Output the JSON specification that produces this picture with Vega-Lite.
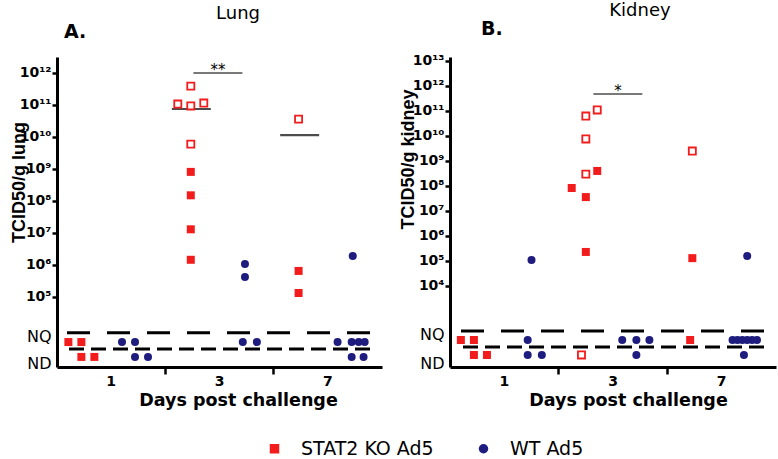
{
  "$schema": "https://vega.github.io/schema/vega-lite/v6.json",
  "padding": {"left": 10, "top": 1, "right": 0, "bottom": 0},
  "spacing": 15,
  "datasets": {
    "pts": [
      {"organ":"Lung","day":"1","strain":"STAT2 KO Ad5","value":3890,"status":"NQ","open":false,"dx":-0.79},
      {"organ":"Lung","day":"1","strain":"STAT2 KO Ad5","value":3890,"status":"NQ","open":false,"dx":-0.55},
      {"organ":"Lung","day":"1","strain":"STAT2 KO Ad5","value":1334,"status":"ND","open":false,"dx":-0.55},
      {"organ":"Lung","day":"1","strain":"STAT2 KO Ad5","value":1334,"status":"ND","open":false,"dx":-0.31},
      {"organ":"Lung","day":"1","strain":"WT Ad5","value":3890,"status":"NQ","open":false,"dx":0.20},
      {"organ":"Lung","day":"1","strain":"WT Ad5","value":3890,"status":"NQ","open":false,"dx":0.44},
      {"organ":"Lung","day":"1","strain":"WT Ad5","value":1334,"status":"ND","open":false,"dx":0.44},
      {"organ":"Lung","day":"1","strain":"WT Ad5","value":1334,"status":"ND","open":false,"dx":0.68},
      {"organ":"Lung","day":"3","strain":"STAT2 KO Ad5","value":3.9e11,"status":"measured","open":true,"dx":-0.53},
      {"organ":"Lung","day":"3","strain":"STAT2 KO Ad5","value":1.07e11,"status":"measured","open":true,"dx":-0.77},
      {"organ":"Lung","day":"3","strain":"STAT2 KO Ad5","value":9.3e10,"status":"measured","open":true,"dx":-0.53},
      {"organ":"Lung","day":"3","strain":"STAT2 KO Ad5","value":1.15e11,"status":"measured","open":true,"dx":-0.29},
      {"organ":"Lung","day":"3","strain":"STAT2 KO Ad5","value":6e9,"status":"measured","open":true,"dx":-0.53},
      {"organ":"Lung","day":"3","strain":"STAT2 KO Ad5","value":8.1e8,"status":"measured","open":false,"dx":-0.53},
      {"organ":"Lung","day":"3","strain":"STAT2 KO Ad5","value":1.5e8,"status":"measured","open":false,"dx":-0.53},
      {"organ":"Lung","day":"3","strain":"STAT2 KO Ad5","value":1.3e7,"status":"measured","open":false,"dx":-0.53},
      {"organ":"Lung","day":"3","strain":"STAT2 KO Ad5","value":1.45e6,"status":"measured","open":false,"dx":-0.53},
      {"organ":"Lung","day":"3","strain":"WT Ad5","value":1.07e6,"status":"measured","open":false,"dx":0.47},
      {"organ":"Lung","day":"3","strain":"WT Ad5","value":4.2e5,"status":"measured","open":false,"dx":0.47},
      {"organ":"Lung","day":"3","strain":"WT Ad5","value":3890,"status":"NQ","open":false,"dx":0.43},
      {"organ":"Lung","day":"3","strain":"WT Ad5","value":3890,"status":"NQ","open":false,"dx":0.69},
      {"organ":"Lung","day":"7","strain":"STAT2 KO Ad5","value":3.6e10,"status":"measured","open":true,"dx":-0.54},
      {"organ":"Lung","day":"7","strain":"STAT2 KO Ad5","value":6.5e5,"status":"measured","open":false,"dx":-0.54},
      {"organ":"Lung","day":"7","strain":"STAT2 KO Ad5","value":1.33e5,"status":"measured","open":false,"dx":-0.54},
      {"organ":"Lung","day":"7","strain":"WT Ad5","value":1.9e6,"status":"measured","open":false,"dx":0.46},
      {"organ":"Lung","day":"7","strain":"WT Ad5","value":3890,"status":"NQ","open":false,"dx":0.18},
      {"organ":"Lung","day":"7","strain":"WT Ad5","value":3890,"status":"NQ","open":false,"dx":0.44},
      {"organ":"Lung","day":"7","strain":"WT Ad5","value":3890,"status":"NQ","open":false,"dx":0.57},
      {"organ":"Lung","day":"7","strain":"WT Ad5","value":3890,"status":"NQ","open":false,"dx":0.68},
      {"organ":"Lung","day":"7","strain":"WT Ad5","value":1334,"status":"ND","open":false,"dx":0.44},
      {"organ":"Lung","day":"7","strain":"WT Ad5","value":1334,"status":"ND","open":false,"dx":0.66},
      {"organ":"Kidney","day":"1","strain":"STAT2 KO Ad5","value":69,"status":"NQ","open":false,"dx":-0.80},
      {"organ":"Kidney","day":"1","strain":"STAT2 KO Ad5","value":69,"status":"NQ","open":false,"dx":-0.56},
      {"organ":"Kidney","day":"1","strain":"STAT2 KO Ad5","value":17.4,"status":"ND","open":false,"dx":-0.56},
      {"organ":"Kidney","day":"1","strain":"STAT2 KO Ad5","value":17.4,"status":"ND","open":false,"dx":-0.32},
      {"organ":"Kidney","day":"1","strain":"WT Ad5","value":1.1e5,"status":"measured","open":false,"dx":0.50},
      {"organ":"Kidney","day":"1","strain":"WT Ad5","value":69,"status":"NQ","open":false,"dx":0.43},
      {"organ":"Kidney","day":"1","strain":"WT Ad5","value":17.4,"status":"ND","open":false,"dx":0.43},
      {"organ":"Kidney","day":"1","strain":"WT Ad5","value":17.4,"status":"ND","open":false,"dx":0.69},
      {"organ":"Kidney","day":"3","strain":"STAT2 KO Ad5","value":1.1e11,"status":"measured","open":true,"dx":-0.29},
      {"organ":"Kidney","day":"3","strain":"STAT2 KO Ad5","value":6.3e10,"status":"measured","open":true,"dx":-0.50},
      {"organ":"Kidney","day":"3","strain":"STAT2 KO Ad5","value":7.6e9,"status":"measured","open":true,"dx":-0.50},
      {"organ":"Kidney","day":"3","strain":"STAT2 KO Ad5","value":3e8,"status":"measured","open":true,"dx":-0.50},
      {"organ":"Kidney","day":"3","strain":"STAT2 KO Ad5","value":17.4,"status":"ND","open":true,"dx":-0.58},
      {"organ":"Kidney","day":"3","strain":"STAT2 KO Ad5","value":4e8,"status":"measured","open":false,"dx":-0.29},
      {"organ":"Kidney","day":"3","strain":"STAT2 KO Ad5","value":8.3e7,"status":"measured","open":false,"dx":-0.76},
      {"organ":"Kidney","day":"3","strain":"STAT2 KO Ad5","value":3.6e7,"status":"measured","open":false,"dx":-0.50},
      {"organ":"Kidney","day":"3","strain":"STAT2 KO Ad5","value":2.3e5,"status":"measured","open":false,"dx":-0.50},
      {"organ":"Kidney","day":"3","strain":"WT Ad5","value":69,"status":"NQ","open":false,"dx":0.17},
      {"organ":"Kidney","day":"3","strain":"WT Ad5","value":69,"status":"NQ","open":false,"dx":0.43},
      {"organ":"Kidney","day":"3","strain":"WT Ad5","value":69,"status":"NQ","open":false,"dx":0.67},
      {"organ":"Kidney","day":"3","strain":"WT Ad5","value":17.4,"status":"ND","open":false,"dx":0.43},
      {"organ":"Kidney","day":"7","strain":"STAT2 KO Ad5","value":2.5e9,"status":"measured","open":true,"dx":-0.54},
      {"organ":"Kidney","day":"7","strain":"STAT2 KO Ad5","value":1.3e5,"status":"measured","open":false,"dx":-0.54},
      {"organ":"Kidney","day":"7","strain":"STAT2 KO Ad5","value":69,"status":"NQ","open":false,"dx":-0.58},
      {"organ":"Kidney","day":"7","strain":"WT Ad5","value":1.6e5,"status":"measured","open":false,"dx":0.47},
      {"organ":"Kidney","day":"7","strain":"WT Ad5","value":69,"status":"NQ","open":false,"dx":0.20},
      {"organ":"Kidney","day":"7","strain":"WT Ad5","value":69,"status":"NQ","open":false,"dx":0.29},
      {"organ":"Kidney","day":"7","strain":"WT Ad5","value":69,"status":"NQ","open":false,"dx":0.38},
      {"organ":"Kidney","day":"7","strain":"WT Ad5","value":69,"status":"NQ","open":false,"dx":0.47},
      {"organ":"Kidney","day":"7","strain":"WT Ad5","value":69,"status":"NQ","open":false,"dx":0.56},
      {"organ":"Kidney","day":"7","strain":"WT Ad5","value":69,"status":"NQ","open":false,"dx":0.65},
      {"organ":"Kidney","day":"7","strain":"WT Ad5","value":17.4,"status":"ND","open":false,"dx":0.41}
    ],
    "limits": [
      {"organ":"Lung","level":"NQ","value":7586},
      {"organ":"Lung","level":"ND","value":2371},
      {"organ":"Kidney","level":"NQ","value":158},
      {"organ":"Kidney","level":"ND","value":36}
    ],
    "medians": [
      {"organ":"Lung","day":"3","value":7.5e10,"dx":-0.52},
      {"organ":"Lung","day":"7","value":1.15e10,"dx":-0.52}
    ],
    "sig": [
      {"organ":"Lung","day":"3","value":1e12,"dx":-0.03,"label":"**"},
      {"organ":"Kidney","day":"3","value":4.79e11,"dx":0.09,"label":"*"}
    ]
  },
  "hconcat": [
    {
      "title": {"text": "Lung", "fontSize": 18, "fontWeight": "normal", "anchor": "middle", "frame": "group", "dx": 181, "offset": 0, "color": "black"},
      "vconcat": [
        {
          "title": {"text": "A.", "fontSize": 19, "fontWeight": "bold", "anchor": "start", "frame": "group", "dx": 7, "offset": 15, "color": "black"},
          "width": 325,
          "height": 310,
          "encoding": {
            "x": {"field": "day", "type": "nominal", "sort": ["1","3","7"],
              "scale": {"domain": ["1","3","7"], "paddingInner": 0, "paddingOuter": 0},
              "axis": {"title": "Days post challenge", "labelAngle": 0, "bandPosition": 0,
                "tickOpacity": {"condition": {"test": "datum.value == '1'", "value": 0}, "value": 1},
                "titleX": 181, "titleY": 24}},
            "y": {"field": "value", "type": "quantitative",
              "scale": {"type": "log", "domain": [646, 3.16e12], "nice": false},
              "axis": {"title": "TCID50/g lung", "titleX": -29, "titleY": 125,
                "values": [1e5,1e6,1e7,1e8,1e9,1e10,1e11,1e12,5623,805],
                "labelExpr": "datum.value < 1e4 ? (datum.value < 2000 ? 'ND' : 'NQ') : '10' + (round(log(datum.value)/LN10) >= 10 ? '¹' : '') + ['⁰','¹','²','³','⁴','⁵','⁶','⁷','⁸','⁹'][round(log(datum.value)/LN10) % 10]",
                "tickOpacity": {"condition": {"test": "datum.value < 1e4", "value": 0}, "value": 1},
                "labelFontWeight": {"condition": {"test": "datum.value < 1e4", "value": "normal"}, "value": "bold"},
                "labelFontSize": {"condition": {"test": "datum.value < 1e4", "value": 16}, "value": 14}}},
            "xOffset": {"field": "dx", "type": "quantitative", "scale": {"domain": [-1, 1]}}
          },
          "layer": [
            {"data": {"name": "limits"}, "transform": [{"filter": "datum.organ == 'Lung' && datum.level == 'NQ'"}],
             "mark": {"type": "rule", "strokeWidth": 3, "color": "black", "strokeDash": [0,12,23,17,23,17,23,17,23,17,23,17,23,17,23,17,23,400]},
             "encoding": {"x": null, "xOffset": null}},
            {"data": {"name": "limits"}, "transform": [{"filter": "datum.organ == 'Lung' && datum.level == 'ND'"}],
             "mark": {"type": "rule", "strokeWidth": 3, "color": "black", "strokeDash": [0,12,15,7,15,7,15,7,15,7,15,7,15,7,15,7,15,7,15,7,15,7,15,7,15,7,15,7,15,400]},
             "encoding": {"x": null, "xOffset": null}},
            {"data": {"name": "medians"}, "transform": [{"filter": "datum.organ == 'Lung'"}],
             "mark": {"type": "tick", "orient": "horizontal", "size": 39, "thickness": 2.2, "color": "black"}},
            {"data": {"name": "sig"}, "transform": [{"filter": "datum.organ == 'Lung'"}],
             "mark": {"type": "tick", "orient": "horizontal", "size": 49, "thickness": 1.6, "color": "black"}},
            {"data": {"name": "sig"}, "transform": [{"filter": "datum.organ == 'Lung'"}],
             "mark": {"type": "text", "baseline": "alphabetic", "dy": 2, "fontSize": 15, "color": "black"},
             "encoding": {"text": {"field": "label"}}},
            {"data": {"name": "pts"}, "transform": [{"filter": "datum.organ == 'Lung' && !datum.open"}],
             "mark": {"type": "point", "filled": true, "size": 64, "opacity": 1},
             "encoding": {
               "color": {"field": "strain", "type": "nominal", "scale": {"domain": ["STAT2 KO Ad5","WT Ad5"], "range": ["#f21c1c","#1e1c7e"]}, "legend": {"title": null}},
               "shape": {"field": "strain", "type": "nominal", "scale": {"domain": ["STAT2 KO Ad5","WT Ad5"], "range": ["square","circle"]}, "legend": {"title": null}}
             }},
            {"data": {"name": "pts"}, "transform": [{"filter": "datum.organ == 'Lung' && datum.open"}],
             "mark": {"type": "point", "shape": "square", "filled": true, "fill": "white", "stroke": "#f21c1c", "strokeWidth": 1.8, "size": 50, "opacity": 1}}
          ]
        }
      ]
    },
    {
      "title": {"text": "Kidney", "fontSize": 18, "fontWeight": "normal", "anchor": "middle", "frame": "group", "dx": 190, "offset": 0, "color": "black"},
      "vconcat": [
        {
          "title": {"text": "B.", "fontSize": 19, "fontWeight": "bold", "anchor": "start", "frame": "group", "dx": 31, "offset": 15, "color": "black"},
          "width": 326,
          "height": 310,
          "encoding": {
            "x": {"field": "day", "type": "nominal", "sort": ["1","3","7"],
              "scale": {"domain": ["1","3","7"], "paddingInner": 0, "paddingOuter": 0},
              "axis": {"title": "Days post challenge", "labelAngle": 0, "bandPosition": 0,
                "tickOpacity": {"condition": {"test": "datum.value == '1'", "value": 0}, "value": 1},
                "titleX": 178, "titleY": 24}},
            "y": {"field": "value", "type": "quantitative",
              "scale": {"type": "log", "domain": [5.75, 1.445e13], "nice": false},
              "axis": {"title": "TCID50/g kidney", "titleX": -33, "titleY": 102,
                "values": [1e4,1e5,1e6,1e7,1e8,1e9,1e10,1e11,1e12,1e13,110,8.3],
                "labelExpr": "datum.value < 1000 ? (datum.value < 30 ? 'ND' : 'NQ') : '10' + (round(log(datum.value)/LN10) >= 10 ? '¹' : '') + ['⁰','¹','²','³','⁴','⁵','⁶','⁷','⁸','⁹'][round(log(datum.value)/LN10) % 10]",
                "tickOpacity": {"condition": {"test": "datum.value < 1000", "value": 0}, "value": 1},
                "labelFontWeight": {"condition": {"test": "datum.value < 1000", "value": "normal"}, "value": "bold"},
                "labelFontSize": {"condition": {"test": "datum.value < 1000", "value": 16}, "value": 14}}},
            "xOffset": {"field": "dx", "type": "quantitative", "scale": {"domain": [-1, 1]}}
          },
          "layer": [
            {"data": {"name": "limits"}, "transform": [{"filter": "datum.organ == 'Kidney' && datum.level == 'NQ'"}],
             "mark": {"type": "rule", "strokeWidth": 3, "color": "black", "strokeDash": [0,12,23,17,23,17,23,17,23,17,23,17,23,17,23,17,23,400]},
             "encoding": {"x": null, "xOffset": null}},
            {"data": {"name": "limits"}, "transform": [{"filter": "datum.organ == 'Kidney' && datum.level == 'ND'"}],
             "mark": {"type": "rule", "strokeWidth": 3, "color": "black", "strokeDash": [0,12,15,7,15,7,15,7,15,7,15,7,15,7,15,7,15,7,15,7,15,7,15,7,15,7,15,7,15,400]},
             "encoding": {"x": null, "xOffset": null}},
            {"data": {"name": "sig"}, "transform": [{"filter": "datum.organ == 'Kidney'"}],
             "mark": {"type": "tick", "orient": "horizontal", "size": 49, "thickness": 1.6, "color": "black"}},
            {"data": {"name": "sig"}, "transform": [{"filter": "datum.organ == 'Kidney'"}],
             "mark": {"type": "text", "baseline": "alphabetic", "dy": 2, "fontSize": 15, "color": "black"},
             "encoding": {"text": {"field": "label"}}},
            {"data": {"name": "pts"}, "transform": [{"filter": "datum.organ == 'Kidney' && !datum.open"}],
             "mark": {"type": "point", "filled": true, "size": 64, "opacity": 1},
             "encoding": {
               "color": {"field": "strain", "type": "nominal", "scale": {"domain": ["STAT2 KO Ad5","WT Ad5"], "range": ["#f21c1c","#1e1c7e"]}, "legend": {"title": null}},
               "shape": {"field": "strain", "type": "nominal", "scale": {"domain": ["STAT2 KO Ad5","WT Ad5"], "range": ["square","circle"]}, "legend": {"title": null}}
             }},
            {"data": {"name": "pts"}, "transform": [{"filter": "datum.organ == 'Kidney' && datum.open"}],
             "mark": {"type": "point", "shape": "square", "filled": true, "fill": "white", "stroke": "#f21c1c", "strokeWidth": 1.8, "size": 50, "opacity": 1}}
          ]
        }
      ]
    }
  ],
  "resolve": {"scale": {"xOffset": "independent"}},
  "config": {
    "font": "DejaVu Sans",
    "view": {"stroke": null},
    "axis": {"grid": false, "domainColor": "black", "domainWidth": 3, "tickColor": "black", "tickWidth": 2.5,
      "labelColor": "black", "titleColor": "black", "labelOverlap": false, "labelFlush": false, "labelBound": false},
    "axisX": {"tickSize": 7, "labelPadding": 0, "labelFontSize": 14, "labelFontWeight": "bold",
      "titleFontSize": 17.5, "titleFontWeight": "bold"},
    "axisY": {"tickSize": 5, "labelPadding": 1, "titleFont": "Liberation Sans", "titleFontSize": 18, "titleFontWeight": "bold"},
    "legend": {"orient": "none", "legendX": 208, "legendY": 382, "direction": "horizontal", "padding": 0,
      "labelFontSize": 19, "labelColor": "black", "symbolSize": 90, "labelOffset": 17, "columnPadding": 40, "symbolStrokeWidth": 0}
  }
}
